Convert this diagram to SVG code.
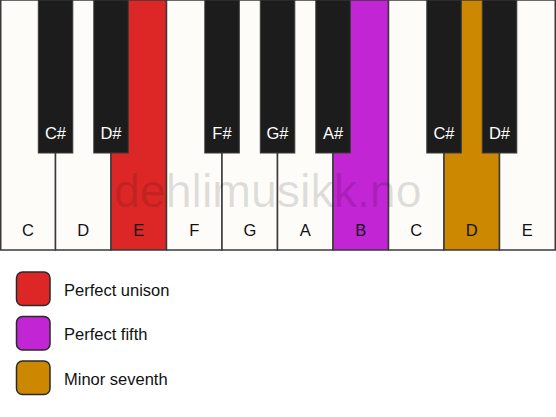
<svg xmlns="http://www.w3.org/2000/svg" width="556" height="417" viewBox="0 0 556 417">
<style>
.w{fill:#fdfcf9;stroke:#3a3a3a;stroke-width:1.5}
.b{fill:#1c1c1c;stroke:#3a3a3a;stroke-width:1}
.lw{font-family:"Liberation Sans",Arial,sans-serif;font-size:16.5px;fill:#111;text-anchor:middle}
.lb{font-family:"Liberation Sans",Arial,sans-serif;font-size:16.5px;fill:#fff;text-anchor:middle}
.lg{font-family:"Liberation Sans",Arial,sans-serif;font-size:16.5px;fill:#111}
.sw{stroke:#2a2a2a;stroke-width:1.5}
</style>
<rect width="556" height="417" fill="#ffffff"/>
<g id="white-keys">
<g id="k-C1"><rect class="w" x="0.75" y="0" width="54.75" height="250"/><text class="lw" x="28" y="236">C</text></g>
<g id="k-D1"><rect class="w" x="55.5" y="0" width="55.5" height="250"/><text class="lw" x="83.3" y="236">D</text></g>
<g id="k-E1"><rect class="w" x="111" y="0" width="55.5" height="250" style="fill:#dd2727"/><text class="lw" x="138.8" y="236">E</text></g>
<g id="k-F1"><rect class="w" x="166.5" y="0" width="55.5" height="250"/><text class="lw" x="194.3" y="236">F</text></g>
<g id="k-G1"><rect class="w" x="222" y="0" width="55.5" height="250"/><text class="lw" x="249.8" y="236">G</text></g>
<g id="k-A1"><rect class="w" x="277.5" y="0" width="55.5" height="250"/><text class="lw" x="305.3" y="236">A</text></g>
<g id="k-B1"><rect class="w" x="333" y="0" width="55.5" height="250" style="fill:#c225d3"/><text class="lw" x="360.8" y="236">B</text></g>
<g id="k-C2"><rect class="w" x="388.5" y="0" width="55.5" height="250"/><text class="lw" x="416.3" y="236">C</text></g>
<g id="k-D2"><rect class="w" x="444" y="0" width="55.5" height="250" style="fill:#cc8800"/><text class="lw" x="471.8" y="236">D</text></g>
<g id="k-E2"><rect class="w" x="499.5" y="0" width="55.75" height="250"/><text class="lw" x="527.3" y="236">E</text></g>
</g>
<text x="114" y="207" font-family="'Liberation Sans',Arial,sans-serif" font-size="46.5" fill="#000" fill-opacity="0.12">dehlimusikk.no</text>
<g id="black-keys">
<g id="k-Cs1"><rect class="b" x="38.3" y="0" width="34.5" height="153"/><text class="lb" x="55.5" y="139">C#</text></g>
<g id="k-Ds1"><rect class="b" x="93.8" y="0" width="34.5" height="153"/><text class="lb" x="111" y="139">D#</text></g>
<g id="k-Fs1"><rect class="b" x="204.8" y="0" width="34.5" height="153"/><text class="lb" x="222" y="139">F#</text></g>
<g id="k-Gs1"><rect class="b" x="260.3" y="0" width="34.5" height="153"/><text class="lb" x="277.5" y="139">G#</text></g>
<g id="k-As1"><rect class="b" x="315.8" y="0" width="34.5" height="153"/><text class="lb" x="333" y="139">A#</text></g>
<g id="k-Cs2"><rect class="b" x="426.8" y="0" width="34.5" height="153"/><text class="lb" x="444" y="139">C#</text></g>
<g id="k-Ds2"><rect class="b" x="482.3" y="0" width="34.5" height="153"/><text class="lb" x="499.5" y="139">D#</text></g>
</g>
<g id="legend">
<g id="leg-unison"><rect class="sw" x="16.5" y="272" width="33.5" height="33.5" rx="6" fill="#dd2727"/><text class="lg" x="64" y="296">Perfect unison</text></g>
<g id="leg-fifth"><rect class="sw" x="16.5" y="316.5" width="33.5" height="33.5" rx="6" fill="#c225d3"/><text class="lg" x="64" y="340">Perfect fifth</text></g>
<g id="leg-seventh"><rect class="sw" x="16.5" y="361" width="33.5" height="33.5" rx="6" fill="#cc8800"/><text class="lg" x="64" y="385">Minor seventh</text></g>
</g>
</svg>
